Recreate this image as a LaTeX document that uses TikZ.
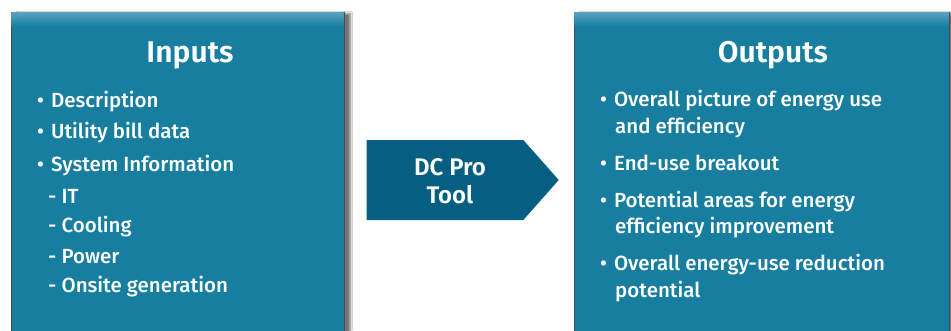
\documentclass[tikz,border=0pt]{standalone}
\usepackage{fontspec}
\setmainfont{Fira Sans}[UprightFont={* Medium},BoldFont={* SemiBold}]
\usetikzlibrary{shapes.symbols,shadows.blur}
\definecolor{boxblue}{HTML}{177EA0}
\definecolor{boxtop}{HTML}{5AA3BF}
\definecolor{toolblue}{HTML}{065F80}
\definecolor{edgegray}{HTML}{4A4A4A}
\tikzset{
  panel/.style={draw=edgegray, line width=0.8pt, fill=boxblue, minimum width=#1, minimum height=340pt, inner sep=0pt, anchor=north west,
    blur shadow={shadow xshift=6pt, shadow yshift=-1pt, shadow blur steps=10, shadow opacity=55}},
  title/.style={text=white, font=\fontsize{30}{34}\selectfont\bfseries, anchor=base},
  item/.style={text=white, font=\fontsize{20.5}{24}\selectfont, anchor=base west, inner sep=0pt},
  tool/.style={signal, signal to=east, signal pointer angle=97, fill=toolblue, minimum width=192pt, minimum height=80pt, inner sep=0pt},
  tooltext/.style={text=white, font=\fontsize{24}{28}\selectfont\bfseries, anchor=base}
}
\newcommand{\bul}{•\hspace{7pt}}
\begin{document}
\begin{tikzpicture}[x=1pt,y=-1pt]
\useasboundingbox (0,0) rectangle (951,330);
\clip (0,0) rectangle (951,330);
\fill[white] (0,0) rectangle (951,330);
% panels
\node[panel=333pt] (inbox) at (11,12) {};
\node[panel=375pt] (outbox) at (574,12) {};
\shade[top color=boxtop, bottom color=boxblue] (11.4,12.4) rectangle (343.6,26);
\shade[top color=boxtop, bottom color=boxblue] (574.4,12.4) rectangle (948.6,26);
% tool arrow
\node[tool] (tool) at (445,180) {};
\node[tooltext] (tool1) at (450,175) {DC Pro};
\node[tooltext] (tool2) at (450,203) {Tool};
% inputs
\node[title] (intitle) at (190,62) {Inputs};
\node[item] (in1) at (37,107) {\bul Description};
\node[item] (in2) at (37,138) {\bul Utility bill data};
\node[item] (in3) at (37,171) {\bul System Information};
\node[item] (in4) at (48,203) {- IT};
\node[item] (in5) at (48,232) {- Cooling};
\node[item] (in6) at (48,263) {- Power};
\node[item] (in7) at (48,292) {- Onsite generation};
% outputs
\node[title] (outtitle) at (773,62) {Outputs};
\node[item] (out1) at (600,106) {\bul Overall picture of energy use};
\node[item] (out2) at (615,133) {and efficiency};
\node[item] (out3) at (600,170) {\bul End-use breakout};
\node[item] (out4) at (600,207) {\bul Potential areas for energy};
\node[item] (out5) at (615,233) {efficiency improvement};
\node[item] (out6) at (600,270) {\bul Overall energy-use reduction};
\node[item] (out7) at (615,297) {potential};
\end{tikzpicture}
\end{document}
